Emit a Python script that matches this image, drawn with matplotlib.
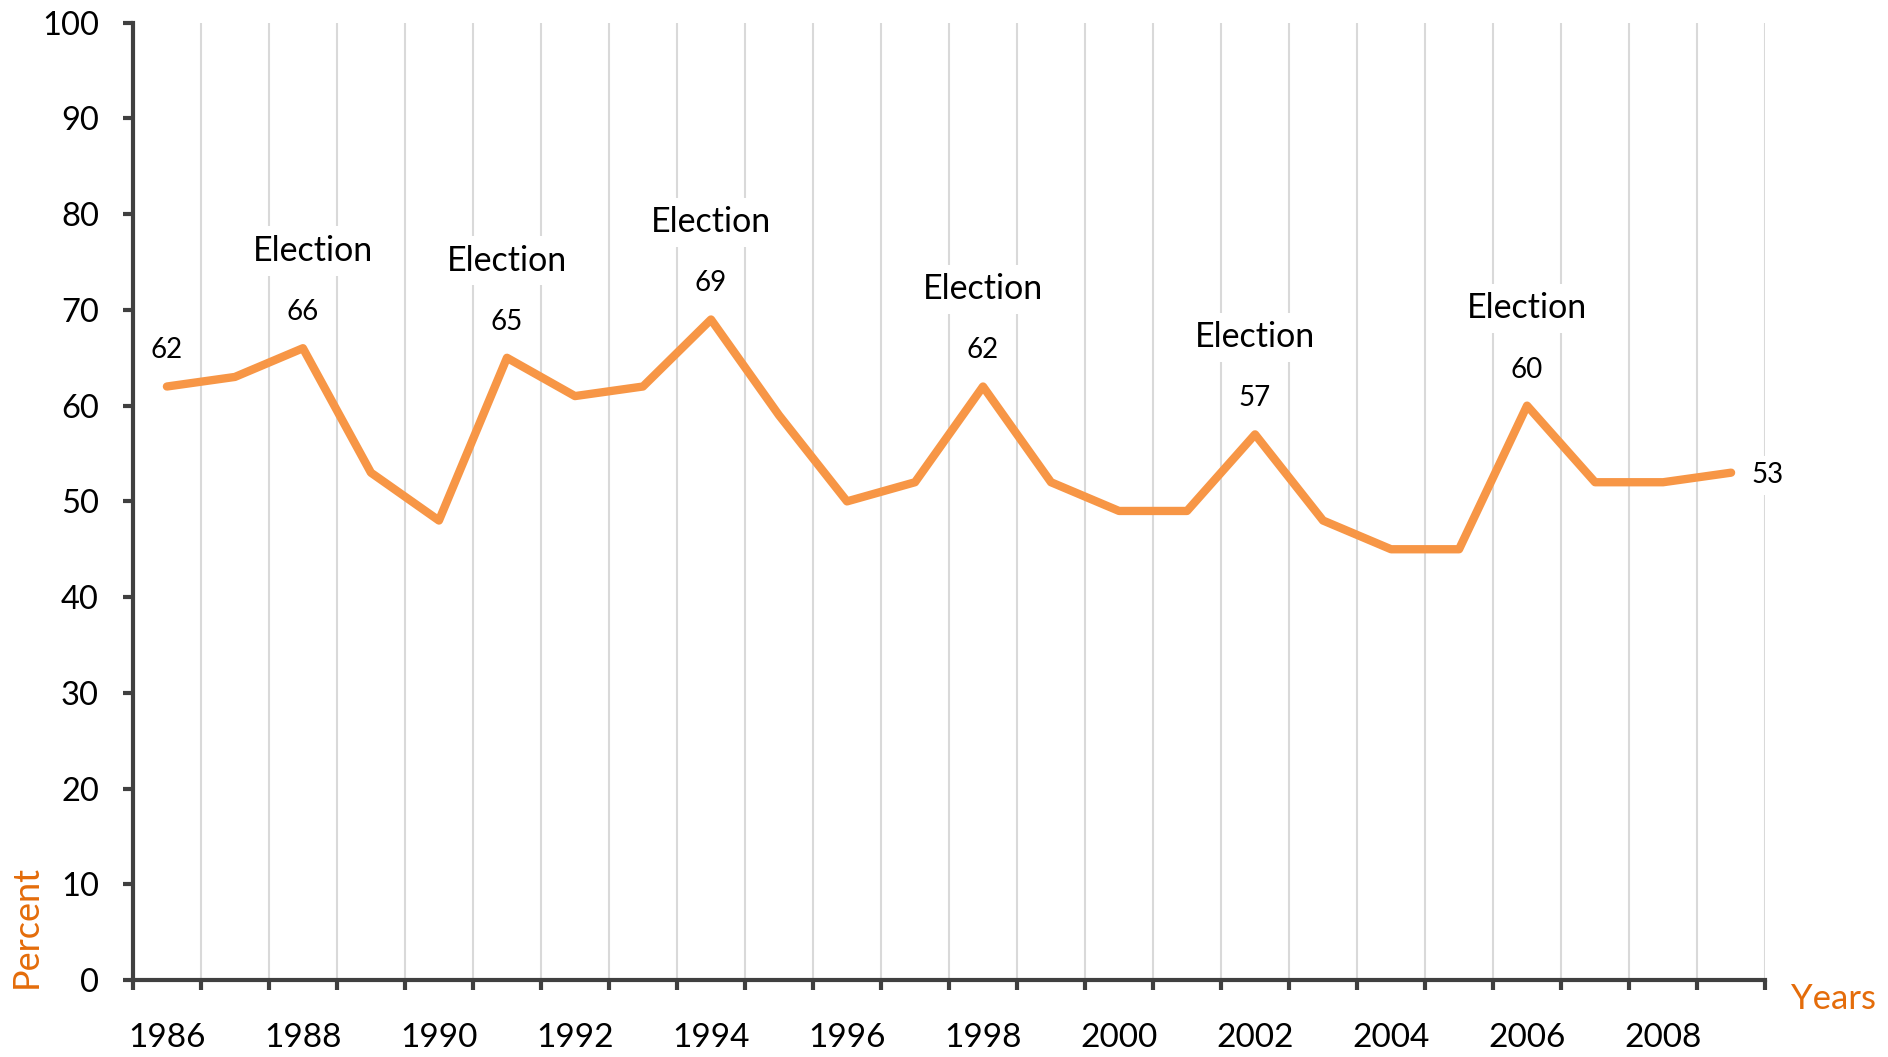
import matplotlib
matplotlib.use("Agg")
import matplotlib.pyplot as plt
import matplotlib.patheffects as pe
import numpy as np

years = list(range(1986, 2010))
turnout = [62, 63, 66, 53, 48, 65, 61, 62, 69, 59, 50, 52,
           62, 52, 49, 49, 57, 48, 45, 45, 60, 52, 52, 53]
election_years = [1988, 1991, 1994, 1998, 2002, 2006]
tick_years = list(range(1986, 2010, 2))

orange = "#F79646"
title_orange = "#E46C0A"
axis_col = "#404040"

plt.rcParams["font.family"] = ["Lato", "DejaVu Sans"]

fig = plt.figure(figsize=(18.88, 10.57), dpi=100)
ax = fig.add_axes([0.0704, 0.0728, 0.8645, 0.9057])

x = np.arange(len(years))
ax.plot(x, turnout, color=orange, lw=6, solid_joinstyle="round",
        solid_capstyle="round", zorder=3)

ax.set_xlim(-0.5, len(years) - 0.5)
ax.set_ylim(0, 100)

# category gridlines between the years
for b in np.arange(0.5, len(years), 1.0):
    ax.axvline(b, color="#D9D9D9", lw=1.5, zorder=1)

ax.set_xticks(np.arange(-0.5, len(years), 1.0))
ax.set_xticklabels([])
ax.set_xticks([years.index(y) for y in tick_years], minor=True)
ax.set_xticklabels([str(y) for y in tick_years], minor=True)
ax.tick_params(axis="x", which="major", direction="out", length=7.5, width=3,
               color=axis_col)
ax.tick_params(axis="x", which="minor", length=0, pad=31, labelsize=24)
ax.set_yticks(range(0, 101, 10))
ax.tick_params(axis="y", direction="out", length=7.5, width=3, color=axis_col,
               pad=17, labelsize=23.5)

for s in ["top", "right"]:
    ax.spines[s].set_visible(False)
shadow = [pe.SimplePatchShadow(offset=(3, -3), shadow_rgbFace="#999999", alpha=0.35),
          pe.Normal()]
for s in ["left", "bottom"]:
    ax.spines[s].set_color(axis_col)
    ax.spines[s].set_linewidth(3)
    ax.spines[s].set_path_effects(shadow)

box = dict(boxstyle="square,pad=0.25", fc="white", ec="none")
for i, (yr, v) in enumerate(zip(years, turnout)):
    if yr in election_years:
        ax.annotate(str(v), (i, v), xytext=(0, 26), textcoords="offset points",
                    ha="center", va="center", fontsize=20, bbox=box, zorder=4)
        dx = 7 if yr == 1988 else 0
        ax.annotate("Election", (i, v), xytext=(dx, 70), textcoords="offset points",
                    ha="center", va="center", fontsize=24.5, bbox=box, zorder=4)

ax.annotate(str(turnout[0]), (0, turnout[0]), xytext=(0, 26), textcoords="offset points",
            ha="center", va="center", fontsize=20, bbox=box, zorder=4)
ax.annotate(str(turnout[-1]), (len(years) - 1, turnout[-1]), xytext=(26, -2),
            textcoords="offset points", ha="center", va="center", fontsize=20,
            bbox=box, zorder=4)

fig.text(0.0138, 0.123, "Percent", rotation=90, color=title_orange, fontsize=26,
         ha="center", va="center")
fig.text(0.971, 0.055, "Years", color=title_orange, fontsize=25,
         ha="center", va="center")

fig.savefig("out.png", dpi=100)
